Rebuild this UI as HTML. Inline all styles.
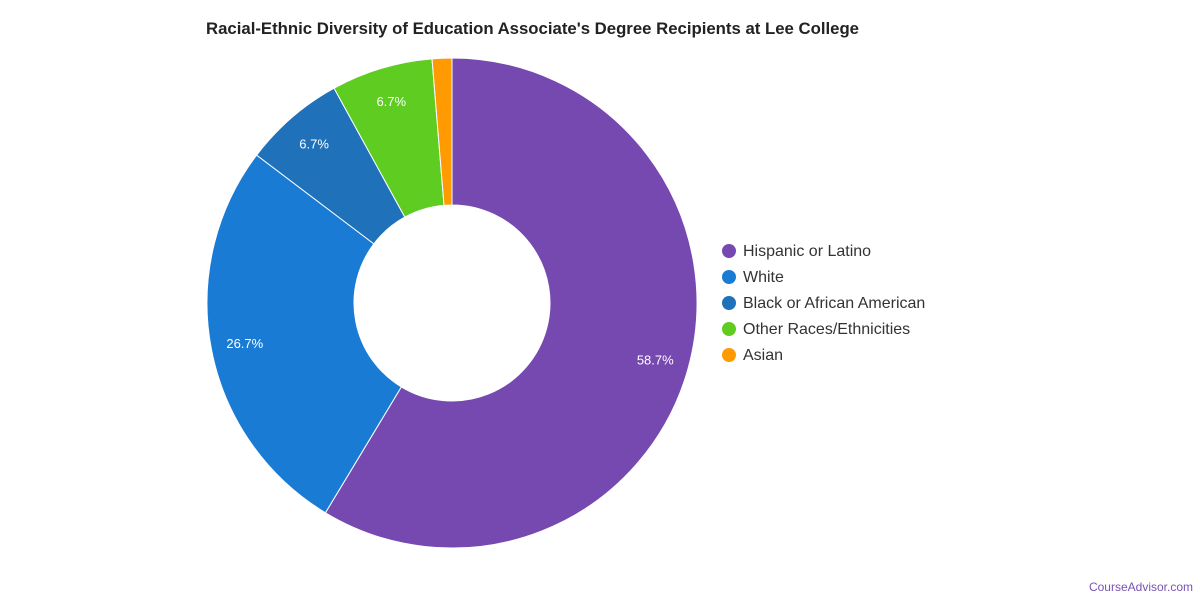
<!DOCTYPE html>
<html><head><meta charset="utf-8">
<style>
body{margin:0;background:#fff;font-family:"Liberation Sans",sans-serif;}
#wrap{position:relative;width:1200px;height:600px;overflow:hidden;}
</style></head>
<body>
<div id="wrap">
<svg id="chart" width="1200" height="600">
<text x="206" y="34" font-size="16.7" font-weight="bold" fill="#222" textLength="653" lengthAdjust="spacingAndGlyphs">Racial-Ethnic Diversity of Education Associate's Degree Recipients at Lee College</text>
<g id="slices"></g>
<g id="labels"></g>
<g id="legend"></g>
<text x="1193" y="591" font-size="12" fill="#7a52b3" text-anchor="end">CourseAdvisor.com</text>
</svg>
</div>
<script>
const categories=["Hispanic or Latino","White","Black or African American","Other Races/Ethnicities","Asian"];
const values=[58.7,26.7,6.7,6.7,1.3];
const labels=["58.7%","26.7%","6.7%","6.7%",""];
const colors=["#7549b0","#1a7bd5","#1f71ba","#5fcc22","#ff9a00"];
const cx=452,cy=303,R=245,r=98,LR=211;
const ns="http://www.w3.org/2000/svg";
const total=values.reduce((a,b)=>a+b,0);
const sg=document.getElementById('slices'),lg=document.getElementById('labels'),leg=document.getElementById('legend');
function pt(rad,a){return [cx+rad*Math.sin(a),cy-rad*Math.cos(a)];}
let a0=0;
values.forEach((v,i)=>{
  const a1=a0+v/total*2*Math.PI;
  const large=(a1-a0)>Math.PI?1:0;
  const [x0,y0]=pt(R,a0),[x1,y1]=pt(R,a1),[x2,y2]=pt(r,a1),[x3,y3]=pt(r,a0);
  const p=document.createElementNS(ns,'path');
  p.setAttribute('d',`M${x0},${y0}A${R},${R} 0 ${large} 1 ${x1},${y1}L${x2},${y2}A${r},${r} 0 ${large} 0 ${x3},${y3}Z`);
  p.setAttribute('fill',colors[i]);p.setAttribute('stroke','#fff');p.setAttribute('stroke-width','1');
  
  
  sg.appendChild(p);
  if(labels[i]){
    const [lx,ly]=pt(LR,(a0+a1)/2);
    const t=document.createElementNS(ns,'text');
    t.setAttribute('x',lx);t.setAttribute('y',ly+5);t.setAttribute('text-anchor','middle');
    t.setAttribute('font-size','13');t.setAttribute('fill','#fff');t.textContent=labels[i];
    
    
    lg.appendChild(t);
  }
  a0=a1;
});
categories.forEach((c,i)=>{
  const y=251+i*26;
  const g=document.createElementNS(ns,'g');
  
  
  const ci=document.createElementNS(ns,'circle');
  ci.setAttribute('cx',729);ci.setAttribute('cy',y);ci.setAttribute('r',7);ci.setAttribute('fill',colors[i]);
  
  
  const t=document.createElementNS(ns,'text');
  t.setAttribute('x',743);t.setAttribute('y',y+5);t.setAttribute('font-size','16');t.setAttribute('fill','#333');t.textContent=c;
  
  
  g.appendChild(ci);g.appendChild(t);leg.appendChild(g);
});
</script>
</body></html>
